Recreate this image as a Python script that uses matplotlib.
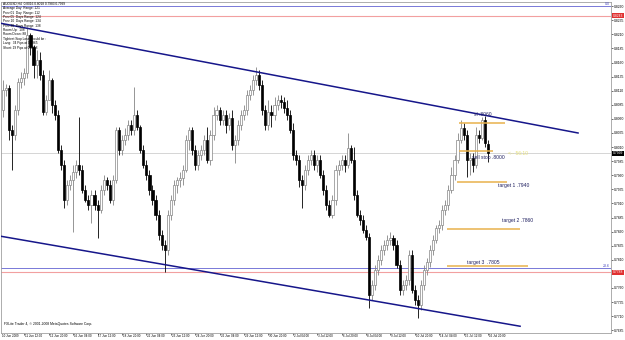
import matplotlib
matplotlib.use("Agg")
import matplotlib.pyplot as plt
import matplotlib.transforms as mtransforms
import numpy as np

plt.rcParams['font.family'] = ['Liberation Sans', 'DejaVu Sans']

# AUDUSD H4 candles, 10 Jun 2009 .. 16 Jul 2009 20:00
opens = [
    0.8076, 0.8111, 0.8115, 0.8040, 0.8031, 0.8076, 0.8125, 0.8133, 0.8141, 0.8209,
    0.8188, 0.8156, 0.8164, 0.8138, 0.8072, 0.8093, 0.8129, 0.8085, 0.8067, 0.8005,
    0.7978, 0.7916, 0.7943, 0.7951, 0.7966, 0.7978, 0.7969, 0.7934, 0.7916, 0.7907,
    0.7925, 0.7907, 0.7898, 0.7934, 0.7951, 0.7943, 0.7916, 0.7951, 0.8040, 0.8005,
    0.8023, 0.8031, 0.8049, 0.8040, 0.8067, 0.8046, 0.8005, 0.7978, 0.7960, 0.7934,
    0.7916, 0.7889, 0.7854, 0.7836, 0.7827, 0.7889, 0.7916, 0.7943, 0.7951, 0.7955,
    0.7969, 0.8023, 0.8040, 0.8005, 0.7978, 0.7996, 0.8005, 0.8023, 0.7987, 0.8031,
    0.8067, 0.8076, 0.8058, 0.8067, 0.8049, 0.8062, 0.8014, 0.8023, 0.8049, 0.8067,
    0.8076, 0.8102, 0.8111, 0.8129, 0.8138, 0.8120, 0.8076, 0.8049, 0.8072, 0.8067,
    0.8085, 0.8093, 0.8090, 0.8079, 0.8067, 0.8040, 0.7996, 0.7987, 0.7951, 0.7943,
    0.7969, 0.7987, 0.7996, 0.7978, 0.7987, 0.7960, 0.7934, 0.7907, 0.7889, 0.7916,
    0.7969, 0.7978, 0.7987, 0.7978, 0.8008, 0.7987, 0.7925, 0.7889, 0.7880, 0.7863,
    0.7850, 0.7747, 0.7765, 0.7792, 0.7809, 0.7827, 0.7836, 0.7845, 0.7849, 0.7836,
    0.7801, 0.7756, 0.7765, 0.7774, 0.7818, 0.7756, 0.7739, 0.7730, 0.7765, 0.7792,
    0.7806, 0.7827, 0.7845, 0.7866, 0.7872, 0.7898, 0.7907, 0.7934, 0.7960, 0.7987,
    0.8023, 0.8044, 0.8031, 0.7987, 0.7991, 0.7978, 0.8031, 0.8026, 0.8058, 0.8016,
]
highs = [
    0.8129, 0.8122, 0.8120, 0.8049, 0.8085, 0.8133, 0.8143, 0.8150, 0.8223, 0.8212,
    0.8191, 0.8182, 0.8179, 0.8147, 0.8102, 0.8147, 0.8133, 0.8093, 0.8076, 0.8014,
    0.7987, 0.7951, 0.7960, 0.7978, 0.7987, 0.8063, 0.7978, 0.7943, 0.7925, 0.7934,
    0.7934, 0.7916, 0.7943, 0.7960, 0.7957, 0.7951, 0.7960, 0.8046, 0.8046, 0.8031,
    0.8044, 0.8058, 0.8058, 0.8117, 0.8076, 0.8049, 0.8014, 0.7987, 0.7969, 0.7943,
    0.7925, 0.7898, 0.7863, 0.7845, 0.7898, 0.7925, 0.7951, 0.7957, 0.7966, 0.7978,
    0.8031, 0.8046, 0.8046, 0.8014, 0.8005, 0.8014, 0.8031, 0.8046, 0.8040, 0.8081,
    0.8085, 0.8081, 0.8076, 0.8076, 0.8070, 0.8076, 0.8031, 0.8058, 0.8076, 0.8085,
    0.8111, 0.8120, 0.8138, 0.8152, 0.8147, 0.8129, 0.8085, 0.8093, 0.8085, 0.8099,
    0.8102, 0.8102, 0.8099, 0.8093, 0.8076, 0.8053, 0.8005, 0.7996, 0.7960, 0.7978,
    0.7996, 0.8005, 0.8005, 0.7996, 0.7996, 0.7969, 0.7943, 0.7916, 0.7925, 0.7978,
    0.7987, 0.7996, 0.7996, 0.8035, 0.8014, 0.8010, 0.7934, 0.7898, 0.7889, 0.7872,
    0.7857, 0.7774, 0.7801, 0.7818, 0.7836, 0.7845, 0.7854, 0.7859, 0.7854, 0.7845,
    0.7809, 0.7774, 0.7783, 0.7827, 0.7827, 0.7765, 0.7747, 0.7774, 0.7801, 0.7813,
    0.7836, 0.7854, 0.7872, 0.7880, 0.7907, 0.7916, 0.7943, 0.7975, 0.7996, 0.8035,
    0.8058, 0.8053, 0.8040, 0.7999, 0.7999, 0.8046, 0.8040, 0.8063, 0.8065, 0.8022,
]
lows = [
    0.8063, 0.8101, 0.8023, 0.7969, 0.8023, 0.8067, 0.8115, 0.8120, 0.8133, 0.8173,
    0.8133, 0.8133, 0.8129, 0.8067, 0.8067, 0.8093, 0.8070, 0.8058, 0.7999, 0.7969,
    0.7902, 0.7907, 0.7934, 0.7859, 0.7955, 0.7960, 0.7928, 0.7912, 0.7898, 0.7875,
    0.7898, 0.7849, 0.7893, 0.7925, 0.7934, 0.7911, 0.7907, 0.7946, 0.7996, 0.7996,
    0.8014, 0.8023, 0.8031, 0.8031, 0.8040, 0.7999, 0.7973, 0.7951, 0.7925, 0.7907,
    0.7880, 0.7845, 0.7827, 0.7788, 0.7818, 0.7880, 0.7907, 0.7928, 0.7939, 0.7943,
    0.7966, 0.8005, 0.7996, 0.7969, 0.7969, 0.7987, 0.7996, 0.7982, 0.7978, 0.8023,
    0.8058, 0.8049, 0.8049, 0.8035, 0.8040, 0.8005, 0.7982, 0.8014, 0.8040, 0.8058,
    0.8067, 0.8093, 0.8102, 0.8120, 0.8111, 0.8067, 0.8040, 0.8040, 0.8046, 0.8058,
    0.8076, 0.8079, 0.8070, 0.8058, 0.8035, 0.7987, 0.7978, 0.7939, 0.7902, 0.7934,
    0.7960, 0.7978, 0.7969, 0.7966, 0.7955, 0.7925, 0.7898, 0.7886, 0.7884, 0.7907,
    0.7960, 0.7969, 0.7966, 0.7973, 0.7982, 0.7916, 0.7886, 0.7872, 0.7857, 0.7845,
    0.7724, 0.7739, 0.7756, 0.7783, 0.7801, 0.7818, 0.7827, 0.7836, 0.7827, 0.7795,
    0.7747, 0.7747, 0.7756, 0.7765, 0.7751, 0.7730, 0.7707, 0.7721, 0.7756, 0.7783,
    0.7797, 0.7818, 0.7840, 0.7857, 0.7863, 0.7889, 0.7898, 0.7928, 0.7951, 0.7982,
    0.8017, 0.8023, 0.7957, 0.7960, 0.7966, 0.7973, 0.8017, 0.8023, 0.8010, 0.7983,
]
closes = [
    0.8111, 0.8115, 0.8040, 0.8031, 0.8076, 0.8125, 0.8133, 0.8141, 0.8209, 0.8188,
    0.8156, 0.8164, 0.8138, 0.8072, 0.8093, 0.8129, 0.8085, 0.8067, 0.8005, 0.7978,
    0.7916, 0.7943, 0.7951, 0.7966, 0.7978, 0.7969, 0.7934, 0.7916, 0.7907, 0.7925,
    0.7907, 0.7898, 0.7934, 0.7951, 0.7943, 0.7916, 0.7951, 0.8040, 0.8005, 0.8023,
    0.8031, 0.8049, 0.8040, 0.8067, 0.8046, 0.8005, 0.7978, 0.7960, 0.7934, 0.7916,
    0.7889, 0.7854, 0.7836, 0.7827, 0.7889, 0.7916, 0.7943, 0.7951, 0.7955, 0.7969,
    0.8023, 0.8040, 0.8005, 0.7978, 0.7996, 0.8005, 0.8023, 0.7987, 0.8031, 0.8067,
    0.8076, 0.8058, 0.8067, 0.8049, 0.8062, 0.8014, 0.8023, 0.8049, 0.8067, 0.8076,
    0.8102, 0.8111, 0.8129, 0.8138, 0.8120, 0.8076, 0.8049, 0.8072, 0.8067, 0.8085,
    0.8093, 0.8090, 0.8079, 0.8067, 0.8040, 0.7996, 0.7987, 0.7951, 0.7943, 0.7969,
    0.7987, 0.7996, 0.7978, 0.7987, 0.7960, 0.7934, 0.7907, 0.7889, 0.7916, 0.7969,
    0.7978, 0.7987, 0.7978, 0.8008, 0.7987, 0.7925, 0.7889, 0.7880, 0.7863, 0.7850,
    0.7747, 0.7765, 0.7792, 0.7809, 0.7827, 0.7836, 0.7845, 0.7849, 0.7836, 0.7801,
    0.7756, 0.7765, 0.7774, 0.7818, 0.7756, 0.7739, 0.7730, 0.7765, 0.7792, 0.7806,
    0.7827, 0.7845, 0.7866, 0.7872, 0.7898, 0.7907, 0.7934, 0.7960, 0.7987, 0.8023,
    0.8044, 0.8031, 0.7987, 0.7991, 0.7978, 0.8031, 0.8026, 0.8058, 0.8017, 0.7999,
]

# time axis labels: one every 8 bars, first at bar 7
date_labels = ["11 Jun 12:00", "12 Jun 20:00", "16 Jun 04:00", "17 Jun 12:00",
               "18 Jun 20:00", "22 Jun 04:00", "23 Jun 12:00", "24 Jun 20:00",
               "26 Jun 04:00", "29 Jun 12:00", "30 Jun 20:00", "2 Jul 04:00",
               "3 Jul 12:00", "6 Jul 20:00", "8 Jul 04:00", "9 Jul 12:00",
               "10 Jul 20:00", "14 Jul 04:00", "15 Jul 12:00", "16 Jul 20:00"]
date_bars = [7 + 8 * k for k in range(len(date_labels))]

# channel trendlines (bar, price) anchors
upper_x = [-1, 188.5]
upper_y = [0.8230, 0.8035]
lower_x = [-1, 169.5]
lower_y = [0.7852, 0.7692]

# horizontal levels
fib_levels = [0.8260, 0.7795]
fib_names = ["0.0", "23.6"]
red_levels = [0.8243, 0.7788]
last_price = 0.7999

# hand drawn trade levels (orange)
trade_levels = [0.8053, 0.8003, 0.7948, 0.7864, 0.7799]
trade_start = [149.5, 149.5, 148.9, 145.6, 145.6]
trade_end = [164.6, 160.7, 165.2, 169.5, 172.1]

info_lines = ["AUDUSD,H4  0.8016 0.8018 0.7983 0.7999",
              "Average Day  Range: 121",
              "Prev 01  Day  Range: 112",
              "Prev 05  Days Range: 124",
              "Prev 10  Days Range: 134",
              "Prev 20  Days Range: 138",
              "Room Up:  108",
              "Room Down: 88",
              "Tightest Stop Loss should be :",
              "Long:  34 Pips at 0.7965",
              "Short: 19 Pips at 0.8018"]

n = len(closes)
bars = np.arange(n)
o = np.array(opens)
h = np.array(highs)
l = np.array(lows)
c = np.array(closes)
up = c >= o

fig = plt.figure(figsize=(6.25, 3.4), dpi=100)
ax = fig.add_axes([1 / 625, 7 / 340, 610 / 625, 331 / 340])
ax.set_xlim(-0.66, 199.3)
ax.set_ylim(0.7680, 0.82675)

# background lines
for lv in fib_levels:
    ax.axhline(lv, color='#7878d8', lw=0.7, zorder=1)
for lv in red_levels:
    ax.axhline(lv, color='#f2a0a0', lw=0.8, zorder=1)
ax.axhline(last_price, color='#cfcfcf', lw=0.6, zorder=1)

# candles
wick_col = np.where(up, '#858585', 'black')
ax.vlines(bars, l, h, colors=wick_col, lw=0.6, zorder=2)
body_lo = np.minimum(o, c)
body_h = np.maximum(np.abs(c - o), 0.00006)
ax.bar(bars, body_h, width=0.7, bottom=body_lo,
       color=np.where(up, 'white', 'black'), edgecolor=wick_col, lw=0.5, zorder=3)

# channel
ax.plot(upper_x, upper_y, color='#16168a', lw=1.1, zorder=4)
ax.plot(lower_x, lower_y, color='#16168a', lw=1.1, zorder=4)

# trade levels
for lv, x0, x1 in zip(trade_levels, trade_start, trade_end):
    ax.plot([x0, x1], [lv, lv], color='#e8b24c', lw=1.1, zorder=4, solid_capstyle='butt')

txt = dict(color='#202060', fontsize=3.6, zorder=5, va='center', ha='left')
ax.text(154.5, 0.8067, "sl .8060", **txt)
ax.text(153.8, 0.7991, "sell stop .8000", **txt)
ax.text(162.3, 0.7941, "target 1 .7940", **txt)
ax.text(163.6, 0.7880, "target 2 .7860", **txt)
ax.text(152.1, 0.7806, "target 3  .7805", **txt)
ax.text(165.6, 0.7998, "<-- 56:10", color='#e6e07a', fontsize=3.6, va='center', ha='left')

# fib level names at right edge of the plot
for lv, name in zip(fib_levels, fib_names):
    ax.text(198.8, lv, name, color='#4848c0', fontsize=2.6, ha='right', va='bottom')

# info panel top-left
for k, line in enumerate(info_lines):
    fig.text(3 / 625, 1 - (4 + 4.35 * k) / 340, line, fontsize=2.3, va='center', ha='left')

ax.text(0.3, 0.7696, "FXLite Trader 4, \u00a9 2001-2008 MetaQuotes Software Corp.",
        fontsize=2.4, va='center', ha='left')

# price axis on the right; the label under the red box is left blank
ax.yaxis.tick_right()
ticks = np.round(np.arange(0.7685, 0.82651, 0.0025), 4)
ax.set_yticks(ticks)
ax.set_yticklabels(["" if abs(t - 0.7785) < 1e-6 else "%.4f" % t for t in ticks])
ax.tick_params(axis='y', length=1.2, width=0.4, pad=0.6, labelsize=2.4, colors='black')

# time axis
ax.set_xticks(date_bars)
ax.set_xticklabels([])
ax.tick_params(axis='x', length=1.2, width=0.4, direction='out')
xtr = mtransforms.blended_transform_factory(ax.transData, ax.transAxes)
ax.text(-0.4, -0.004, "10 Jun 2009", transform=xtr, fontsize=2.2, va='top', ha='left')
for b, lbl in zip(date_bars, date_labels):
    ax.text(b + 0.3, -0.004, lbl, transform=xtr, fontsize=2.2, va='top', ha='left')

# highlighted price boxes on the axis
ytr = mtransforms.blended_transform_factory(ax.transAxes, ax.transData)
ax.text(1.003, last_price, "%.4f" % last_price, transform=ytr, fontsize=2.4, color='white',
        va='center', ha='left', zorder=6,
        bbox=dict(facecolor='black', edgecolor='none', pad=0.4))
for lv in red_levels:
    ax.text(1.003, lv, "%.4f" % lv, transform=ytr, fontsize=2.4, color='white',
            va='center', ha='left', zorder=6,
            bbox=dict(facecolor='#e03030', edgecolor='none', pad=0.4))

for s in ax.spines.values():
    s.set_color('#a0a0a0')
    s.set_linewidth(0.6)

fig.savefig('out.png', dpi=100)
